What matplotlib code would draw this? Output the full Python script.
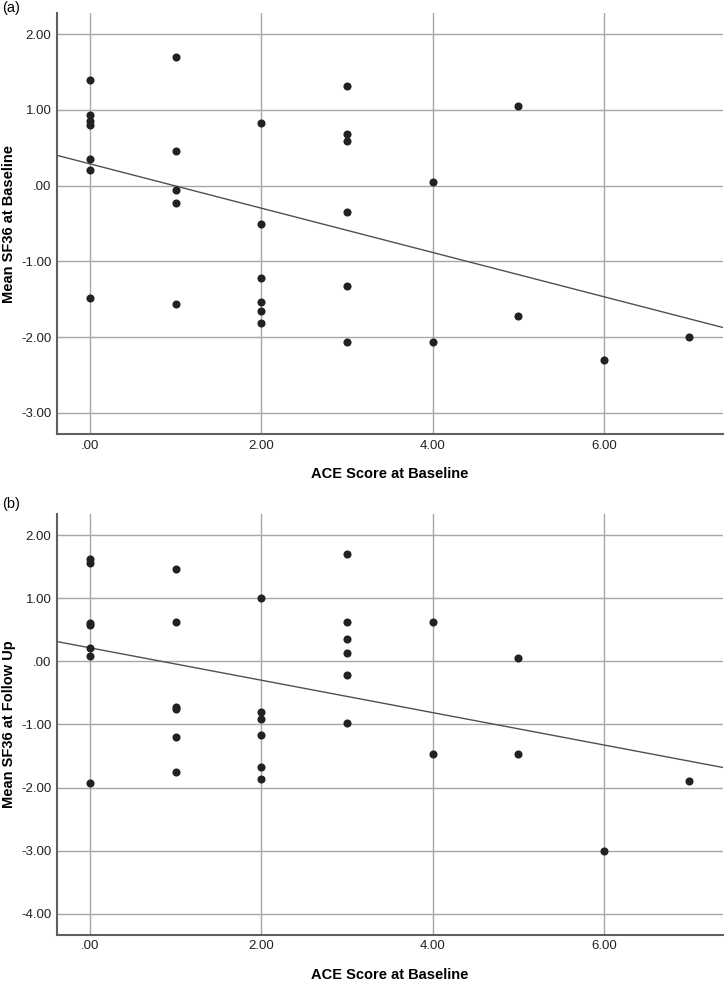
import numpy as np
import matplotlib
matplotlib.use("Agg")
import matplotlib.pyplot as plt

plt.rcParams["font.family"] = ["Liberation Sans", "DejaVu Sans"]

# ACE score (x) and mean SF36 (y)
ace_a = [0, 0, 0, 0, 0, 0, 0,
         1, 1, 1, 1, 1,
         2, 2, 2, 2, 2, 2,
         3, 3, 3, 3, 3, 3,
         4, 4, 5, 5, 6, 7]
sf36_base = [1.39, 0.93, 0.85, 0.80, 0.35, 0.21, -1.49,
             1.70, 0.46, -0.06, -0.23, -1.56,
             0.83, -0.50, -1.22, -1.54, -1.65, -1.81,
             1.31, 0.68, 0.59, -0.35, -1.32, -2.06,
             0.05, -2.06, 1.05, -1.72, -2.30, -2.00]

ace_b = [0, 0, 0, 0, 0, 0, 0,
         1, 1, 1, 1, 1, 1,
         2, 2, 2, 2, 2, 2,
         3, 3, 3, 3, 3, 3,
         4, 4, 5, 5, 6, 7]
sf36_follow = [1.62, 1.56, 0.60, 0.58, 0.21, 0.08, -1.92,
               1.47, 0.62, -0.73, -0.75, -1.20, -1.75,
               1.01, -0.81, -0.91, -1.16, -1.67, -1.87,
               1.70, 0.63, 0.36, 0.14, -0.21, -0.97,
               0.62, -1.47, 0.06, -1.47, -3.01, -1.90]

x_ticks = [0, 2, 4, 6]
y_ticks_a = [2, 1, 0, -1, -2, -3]
y_ticks_b = [2, 1, 0, -1, -2, -3, -4]

panels = [
    ("(a)", ace_a, sf36_base, "Mean SF36 at Baseline", y_ticks_a, (-3.28, 2.28)),
    ("(b)", ace_b, sf36_follow, "Mean SF36 at Follow Up", y_ticks_b, (-4.33, 2.33)),
]


def fmt(v):
    s = f"{v:.2f}"
    if s.startswith("0."):
        s = s[1:]
    return s


fig = plt.figure(figsize=(7.25, 9.82), dpi=100)
rects = [[0.0786, 0.558, 0.9184, 0.4288], [0.0786, 0.0482, 0.9184, 0.4281]]
tag_y = [1 - 1 / 982, 1 - 497 / 982]
xlim = (-0.385, 7.39)

for (tag, xs, ys, ylab, yt, ylim), r, ty in zip(panels, rects, tag_y):
    ax = fig.add_axes(r)
    ax.set_xlim(*xlim)
    ax.set_ylim(*ylim)
    ax.set_xticks(x_ticks)
    ax.set_xticklabels([fmt(v) for v in x_ticks])
    ax.set_yticks(yt)
    ax.set_yticklabels([fmt(v) for v in yt])
    ax.grid(True, color="#a8a8a8", linewidth=1.0)
    ax.set_axisbelow(True)
    for s in ("top", "right"):
        ax.spines[s].set_visible(False)
    for s in ("left", "bottom"):
        ax.spines[s].set_color("#606060")
        ax.spines[s].set_linewidth(1.5)
    ax.tick_params(length=0, labelsize=9.5, colors="#222222", pad=4)

    ax.scatter(xs, ys, s=34, color="#222222", zorder=3, linewidths=0)
    slope, icpt = np.polyfit(xs, ys, 1)
    lx = np.array(xlim)
    ax.plot(lx, icpt + slope * lx, color="#505050", linewidth=1.0, zorder=2)

    ax.set_xlabel("ACE Score at Baseline", fontsize=10.5, fontweight="bold", labelpad=11)
    ax.set_ylabel(ylab, fontsize=10.5, fontweight="bold")
    ax.yaxis.set_label_coords(-0.061, 0.5)

    fig.text(0.003, ty, tag, fontsize=10.5, va="top", ha="left")

fig.savefig("out.png", dpi=100)
